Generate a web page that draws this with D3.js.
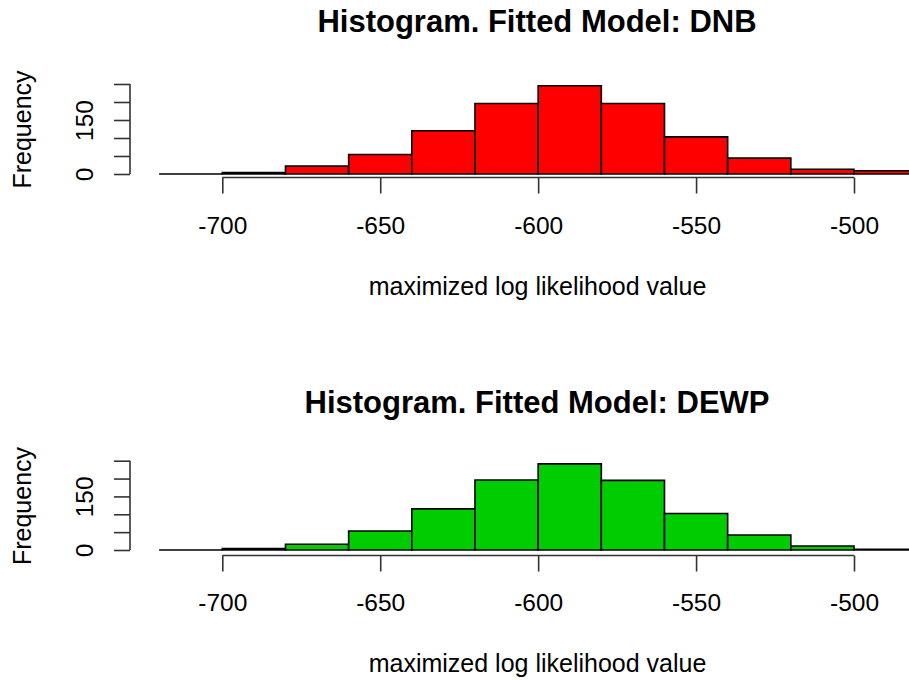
<!DOCTYPE html>
<html>
<head>
<meta charset="utf-8">
<script src="https://cdn.jsdelivr.net/npm/d3@7"></script>
<style>
  html, body { margin: 0; padding: 0; background: #ffffff; }
  svg { display: block; font-family: "Liberation Sans", Arial, sans-serif; }
</style>
</head>
<body>
<svg id="chart" width="909" height="680"></svg>
<script>
// ---- data ----
const breaks = [-720, -700, -680, -660, -640, -620, -600, -580, -560, -540, -520, -500, -480];
const dnbCounts  = [0, 4, 22, 54, 120, 196, 245, 196, 103, 44, 13, 9];
const dewpCounts = [0, 4, 16, 53, 115, 196, 241, 195, 102, 42, 11, 2];
const xTicks = [-700, -650, -600, -550, -500];
const yTicks = [0, 50, 100, 150, 200, 250];
const yTickLabels = [0, 150];
const titles = ["Histogram. Fitted Model: DNB", "Histogram. Fitted Model: DEWP"];
const xLabel = "maximized log likelihood value";
const yLabel = "Frequency";
const fills = ["#FF0000", "#00CD00"];

// ---- layout ----
const svg = d3.select("#chart");
const x = d3.scaleLinear().domain([-700, -500]).range([222.3, 854]);
const axisX = 130;

const panels = [
  { counts: dnbCounts, title: titles[0], fill: fills[0],
    y0: 174, y250: 84, xAxisY: 177.5, titleY: 32, labelY: 295, yLabCenter: 129.5, pad: 23.2 },
  { counts: dewpCounts, title: titles[1], fill: fills[1],
    y0: 550, y250: 460.7, xAxisY: 555.5, titleY: 413, labelY: 672, yLabCenter: 506, pad: 22.2 }
];

panels.forEach(p => {
  const g = svg.append("g");
  const y = d3.scaleLinear().domain([0, 250]).range([p.y0, p.y250]);
  const bins = p.counts.map((c, i) => ({ x0: breaks[i], x1: breaks[i + 1], c }));

  // bars (paths so that zero-count bins still show as a line)
  g.selectAll("path.bar").data(bins).join("path")
    .attr("class", "bar")
    .attr("d", d => `M${x(d.x0)},${y(0)}V${y(d.c)}H${x(d.x1)}V${y(0)}Z`)
    .attr("fill", p.fill)
    .attr("stroke", "#000")
    .attr("stroke-width", 1.6)
    .attr("stroke-linejoin", "miter");

  // x axis
  const xa = g.append("g").attr("transform", `translate(0,${p.xAxisY})`)
    .call(d3.axisBottom(x).tickValues(xTicks).tickSize(16).tickPadding(p.pad)
      .tickFormat(d3.format("d")));
  xa.select(".domain").remove();
  xa.append("line")
    .attr("x1", x(xTicks[0])).attr("x2", x(xTicks[xTicks.length - 1]))
    .attr("y1", 0).attr("y2", 0)
    .attr("stroke", "#333").attr("stroke-width", 1.6);
  xa.selectAll(".tick line").attr("stroke", "#333").attr("stroke-width", 1.6);
  xa.selectAll("text").attr("font-size", 24.5).attr("fill", "#000")
    .attr("font-family", "Liberation Sans, Arial, sans-serif")
    .text(d => String(d).replace("−", "-"));

  // y axis
  const ya = g.append("g").attr("transform", `translate(${axisX},0)`)
    .call(d3.axisLeft(y).tickValues(yTicks).tickSize(16)
      .tickFormat(d => yTickLabels.includes(d) ? String(d) : ""));
  ya.select(".domain").remove();
  ya.append("line")
    .attr("x1", 0).attr("x2", 0)
    .attr("y1", y(yTicks[0])).attr("y2", y(yTicks[yTicks.length - 1]))
    .attr("stroke", "#333").attr("stroke-width", 1.6);
  ya.selectAll(".tick line").attr("stroke", "#333").attr("stroke-width", 1.6);
  ya.selectAll("text")
    .attr("font-size", 24.5).attr("fill", "#000")
    .attr("font-family", "Liberation Sans, Arial, sans-serif")
    .attr("x", 0).attr("y", -37).attr("dy", 0)
    .attr("text-anchor", "middle")
    .attr("transform", "rotate(-90)");

  // title
  g.append("text")
    .attr("x", 537).attr("y", p.titleY)
    .attr("text-anchor", "middle")
    .attr("font-size", 31).attr("font-weight", "bold")
    .text(p.title);

  // x label
  g.append("text")
    .attr("x", 537.5).attr("y", p.labelY)
    .attr("text-anchor", "middle")
    .attr("font-size", 25)
    .text(xLabel);

  // y label
  g.append("text")
    .attr("transform", `translate(31,${p.yLabCenter}) rotate(-90)`)
    .attr("text-anchor", "middle")
    .attr("font-size", 25)
    .text(yLabel);
});
</script>
</body>
</html>
